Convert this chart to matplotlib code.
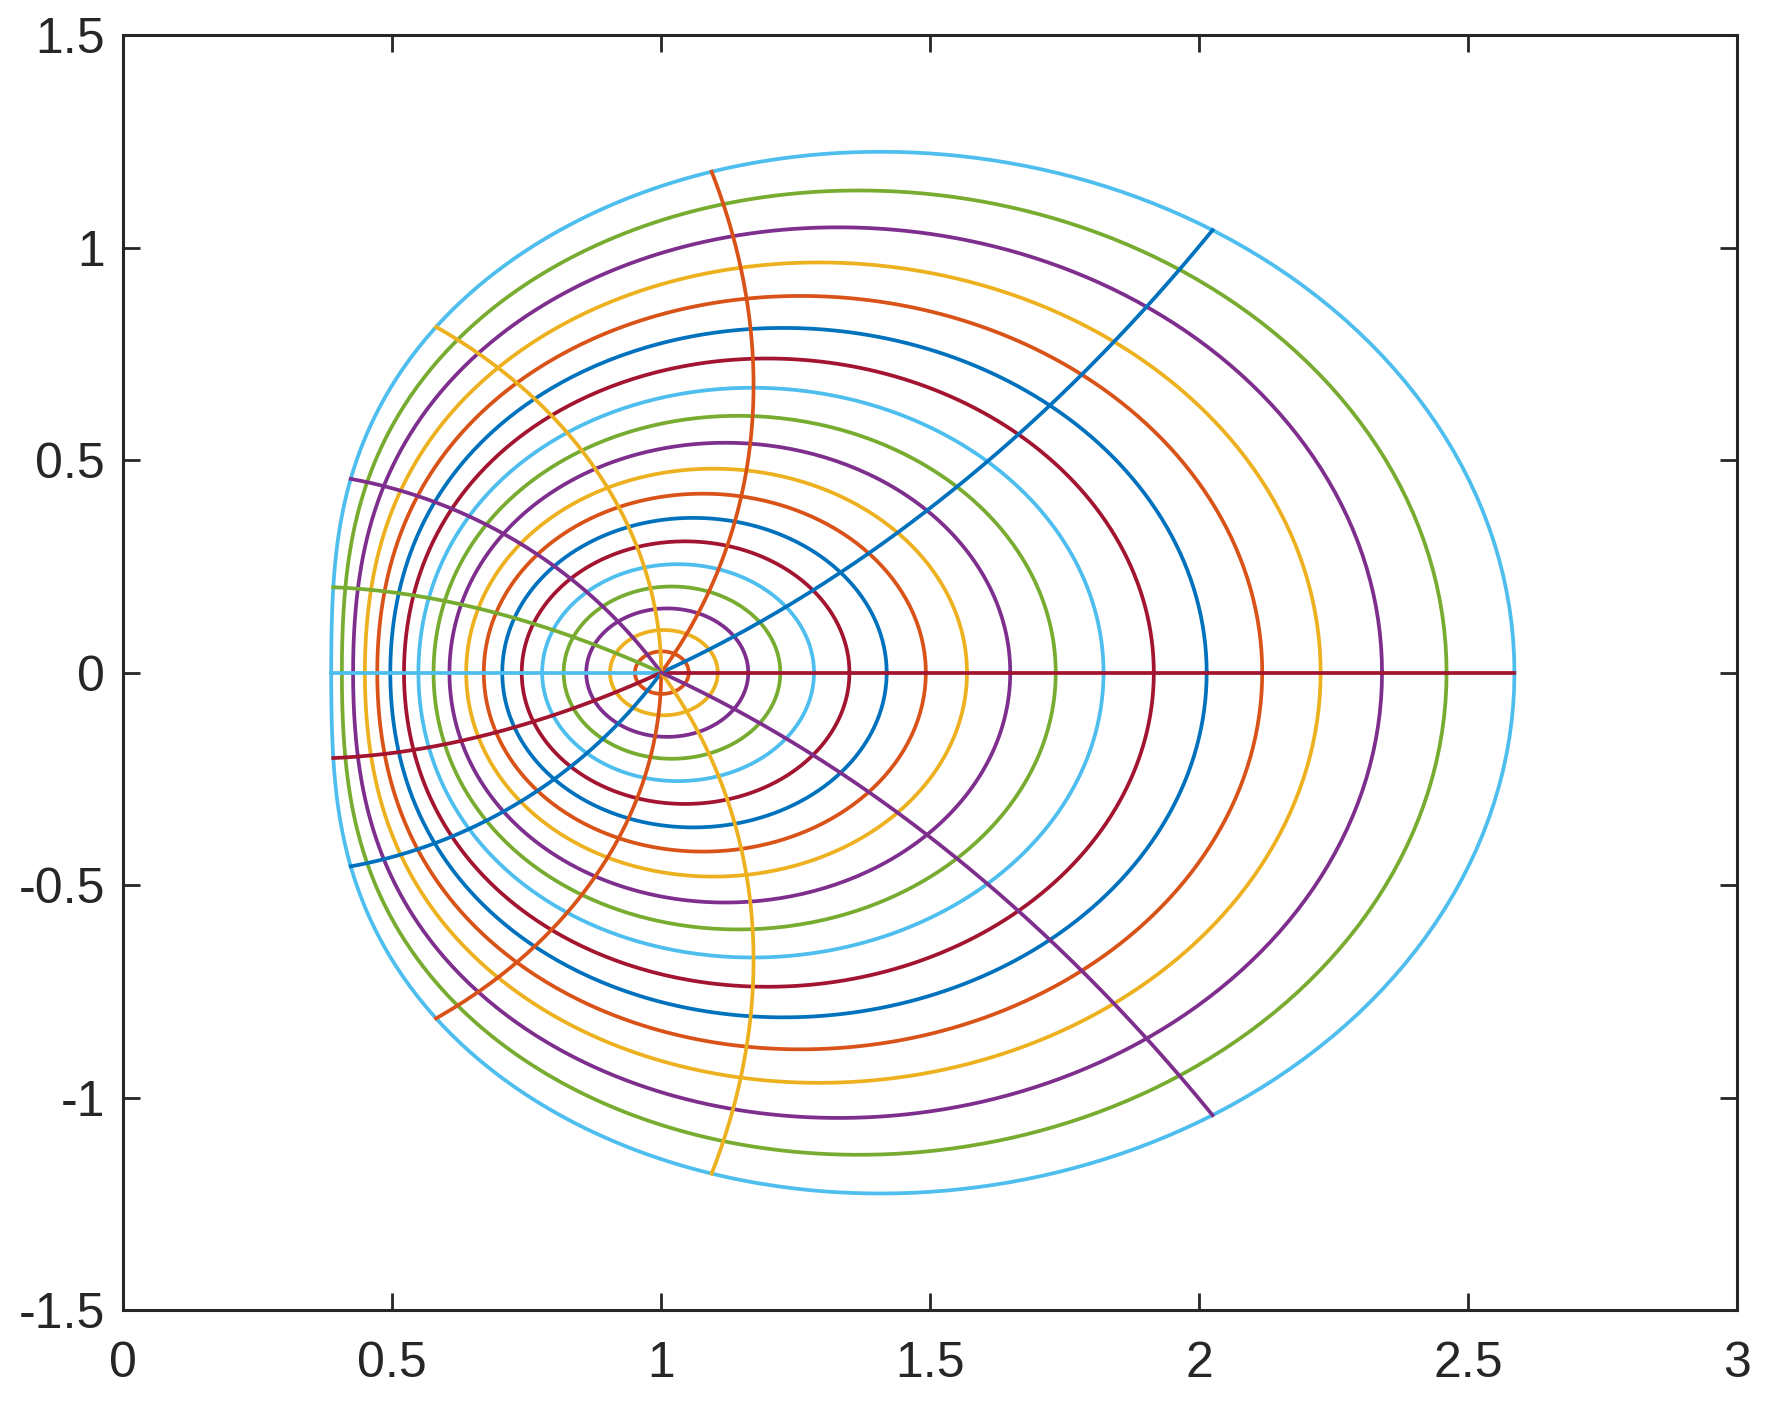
import numpy as np
import matplotlib
matplotlib.use('Agg')
import matplotlib.pyplot as plt

# Malla polar (radios y ángulos) transformada por w = exp(z)
radios = np.arange(0, 20) * 0.05          # 0, 0.05, ..., 0.95
angulos = np.arange(0, 12) * np.pi / 6     # 0, pi/6, ..., 11pi/6
r_max = 0.95

# Orden de colores por defecto de MATLAB
colores = ['#0072BD', '#D95319', '#EDB120', '#7E2F8E',
           '#77AC30', '#4DBEEE', '#A2142F']

plt.rcParams['font.family'] = ['Liberation Sans', 'DejaVu Sans']

fig = plt.figure(figsize=(17.71, 14.05), dpi=100)
ax = fig.add_axes([0.0695, 0.0675, 0.9115, 0.9075])

t = np.linspace(0, 2 * np.pi, 400)
k = 0
for r in radios:
    w = np.exp(r * np.exp(1j * t))
    ax.plot(w.real, w.imag, color=colores[k % 7], lw=2.7)
    k += 1

rho = np.linspace(0, r_max, 200)
for th in angulos:
    w = np.exp(rho * np.exp(1j * th))
    ax.plot(w.real, w.imag, color=colores[k % 7], lw=2.7)
    k += 1

ax.set_xlim(0, 3)
ax.set_ylim(-1.5, 1.5)
ax.set_xticks(np.arange(0, 3.01, 0.5))
ax.set_yticks(np.arange(-1.5, 1.51, 0.5))
ax.set_xticklabels(['0', '0.5', '1', '1.5', '2', '2.5', '3'])
ax.set_yticklabels(['-1.5', '-1', '-0.5', '0', '0.5', '1', '1.5'])
ax.tick_params(direction='in', top=True, right=True, length=12, width=2,
               labelsize=36, colors='#262626')
ax.tick_params(axis='x', pad=22)
ax.tick_params(axis='y', pad=13)
for s in ax.spines.values():
    s.set_linewidth(2.2)
    s.set_color('#262626')

fig.savefig('out.png', dpi=100)
